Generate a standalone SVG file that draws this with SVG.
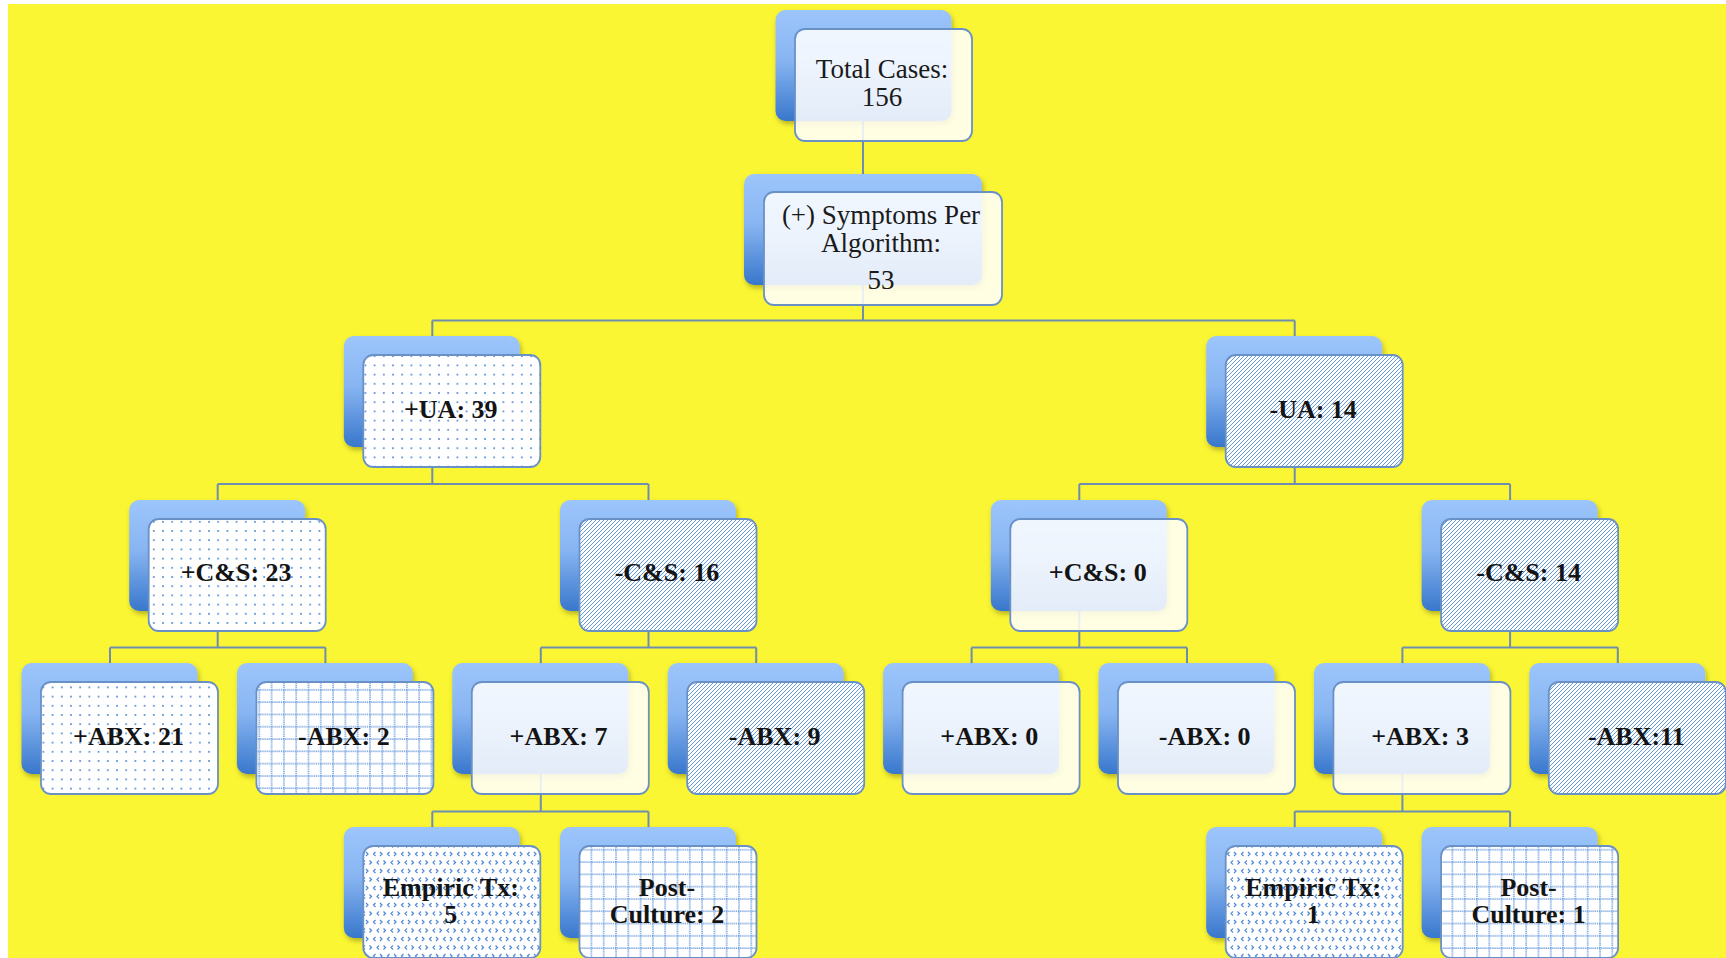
<svg xmlns="http://www.w3.org/2000/svg" width="1726" height="958" viewBox="0 0 1726 958">
  <defs>
    <style>
      .back { fill: url(#gBack); filter: url(#fShadow); }
      .front { stroke: #6a91c6; stroke-width: 1.8; }
      .plain { fill: #ffffff; fill-opacity: 0.86; }
      .dots { fill: url(#pDots); }
      .hatch { fill: url(#pHatch); }
      .grid { fill: url(#pGrid); }
      .divot { fill: url(#pDivot); }
      .lbl { font-family: "Liberation Serif", "Times New Roman", serif; font-size: 26px; font-weight: bold; fill: #141414; text-anchor: middle; }
      .lblr { font-family: "Liberation Serif", "Times New Roman", serif; font-size: 27px; fill: #1a1a1a; text-anchor: middle; }
      .conn { fill: none; stroke: #6f8db0; stroke-width: 2; }
    </style>
    <linearGradient id="gBack" x1="0" y1="0" x2="0" y2="1">
      <stop offset="0" stop-color="#9cc5fb"/>
      <stop offset="0.45" stop-color="#88b5f2"/>
      <stop offset="1" stop-color="#3877cc"/>
    </linearGradient>
    <filter id="fShadow" x="-10%" y="-10%" width="125%" height="130%">
      <feDropShadow dx="1.5" dy="3" stdDeviation="2.5" flood-color="#000000" flood-opacity="0.28"/>
    </filter>
    <!-- sparse dots on white -->
    <pattern id="pDots" x="2" y="2" width="9.2" height="9.2" patternUnits="userSpaceOnUse">
      <rect width="9.2" height="9.2" fill="#ffffff"/>
      <circle cx="4.6" cy="4.6" r="1" fill="#4a86d6"/>
    </pattern>
    <!-- upward diagonal hatching -->
    <pattern id="pHatch" width="4" height="4" patternUnits="userSpaceOnUse">
      <rect width="4" height="4" fill="#ffffff"/>
      <path d="M0,4 L4,0 M-1,1 L1,-1 M3,5 L5,3" stroke="#5590dc" stroke-width="0.9"/>
    </pattern>
    <!-- dotted grid -->
    <pattern id="pGrid" width="12.3" height="12.3" patternUnits="userSpaceOnUse">
      <rect width="12.3" height="12.3" fill="#ffffff"/>
      <path d="M0,1 H12.3 M1,0 V12.3" stroke="#3f7fd4" stroke-width="1.2" stroke-dasharray="1.2 0.85"/>
    </pattern>
    <!-- small chevrons -->
    <pattern id="pDivot" width="14" height="17" patternUnits="userSpaceOnUse">
      <rect width="14" height="17" fill="#ffffff"/>
      <path d="M2,2 L4,4 L2,6 M11.5,2 L9.5,4 L11.5,6 M5.5,10.5 L7.5,12.5 L5.5,14.5 M15,10.5 L13,12.5 L15,14.5 M1,10.5 L-1,12.5 L1,14.5" fill="none" stroke="#4a86d6" stroke-width="1.2"/>
    </pattern>
  </defs>

  <!-- page background -->
  <rect x="0" y="0" width="1726" height="958" fill="#ffffff"/>
  <rect x="8" y="4" width="1718" height="954" fill="#fbf633"/>

  <!-- connectors -->
  <g id="connectors" class="conn">
    <path d="M863,70 V230"/>
    <path d="M863,230 V320.5 M432.3,320.5 H1294.7 M432.3,320.5 V338 M1294.7,320.5 V338"/>
    <path d="M432.3,400 V484 M217.7,484 H648.5 M217.7,484 V502 M648.5,484 V502"/>
    <path d="M1294.7,400 V484 M1079.3,484 H1510.1 M1079.3,484 V502 M1510.1,484 V502"/>
    <path d="M217.7,560 V647.5 M110,647.5 H325.4 M110,647.5 V665 M325.4,647.5 V665"/>
    <path d="M648.5,560 V647.5 M540.8,647.5 H756.2 M540.8,647.5 V665 M756.2,647.5 V665"/>
    <path d="M1079.3,560 V647.5 M971.6,647.5 H1187 M971.6,647.5 V665 M1187,647.5 V665"/>
    <path d="M1510.1,560 V647.5 M1402.4,647.5 H1617.8 M1402.4,647.5 V665 M1617.8,647.5 V665"/>
    <path d="M540.8,725 V811.5 M432.3,811.5 H648.5 M432.3,811.5 V829 M648.5,811.5 V829"/>
    <path d="M1402.4,725 V811.5 M1294.7,811.5 H1510.1 M1294.7,811.5 V829 M1510.1,811.5 V829"/>
  </g>

  <!-- level 0 -->
  <g id="n-total">
    <rect class="back" x="775.5" y="10" width="176" height="111" rx="10"/>
    <rect class="front plain" x="795" y="29" width="177" height="112" rx="10"/>
    <text class="lblr" x="882" y="78">Total Cases:</text>
    <text class="lblr" x="882" y="106">156</text>
  </g>

  <!-- level 1 -->
  <g id="n-symptoms">
    <rect class="back" x="744" y="174" width="238" height="111" rx="10"/>
    <rect class="front plain" x="764" y="192" width="238" height="113" rx="10"/>
    <text class="lblr" x="881" y="224">(+) Symptoms Per</text>
    <text class="lblr" x="881" y="252">Algorithm:</text>
    <text class="lblr" x="881" y="289">53</text>
  </g>

  <!-- level 2 -->
  <g id="n-ua-pos">
    <rect class="back" x="343.8" y="336" width="176" height="111" rx="10"/>
    <rect class="front dots" x="363.3" y="355" width="177" height="112" rx="10"/>
    <text class="lbl" x="450.8" y="418">+UA: 39</text>
  </g>
  <g id="n-ua-neg">
    <rect class="back" x="1206.2" y="336" width="176" height="111" rx="10"/>
    <rect class="front hatch" x="1225.7" y="355" width="177" height="112" rx="10"/>
    <text class="lbl" x="1313.2" y="418">-UA: 14</text>
  </g>

  <!-- level 3 -->
  <g id="n-cs-pos-a">
    <rect class="back" x="129.2" y="500" width="176" height="111" rx="10"/>
    <rect class="front dots" x="148.7" y="519" width="177" height="112" rx="10"/>
    <text class="lbl" x="236.2" y="581">+C&amp;S: 23</text>
  </g>
  <g id="n-cs-neg-a">
    <rect class="back" x="560" y="500" width="176" height="111" rx="10"/>
    <rect class="front hatch" x="579.5" y="519" width="177" height="112" rx="10"/>
    <text class="lbl" x="667" y="581">-C&amp;S: 16</text>
  </g>
  <g id="n-cs-pos-b">
    <rect class="back" x="990.8" y="500" width="176" height="111" rx="10"/>
    <rect class="front plain" x="1010.3" y="519" width="177" height="112" rx="10"/>
    <text class="lbl" x="1097.8" y="581">+C&amp;S: 0</text>
  </g>
  <g id="n-cs-neg-b">
    <rect class="back" x="1421.6" y="500" width="176" height="111" rx="10"/>
    <rect class="front hatch" x="1441.1" y="519" width="177" height="112" rx="10"/>
    <text class="lbl" x="1528.6" y="581">-C&amp;S: 14</text>
  </g>

  <!-- level 4 -->
  <g id="n-abx-1">
    <rect class="back" x="21.5" y="663" width="176" height="111" rx="10"/>
    <rect class="front dots" x="41" y="682" width="177" height="112" rx="10"/>
    <text class="lbl" x="128.5" y="745">+ABX: 21</text>
  </g>
  <g id="n-abx-2">
    <rect class="back" x="236.9" y="663" width="176" height="111" rx="10"/>
    <rect class="front grid" x="256.4" y="682" width="177" height="112" rx="10"/>
    <text class="lbl" x="343.9" y="745">-ABX: 2</text>
  </g>
  <g id="n-abx-3">
    <rect class="back" x="452.3" y="663" width="176" height="111" rx="10"/>
    <rect class="front plain" x="471.8" y="682" width="177" height="112" rx="10"/>
    <text class="lbl" x="558.5" y="745">+ABX: 7</text>
  </g>
  <g id="n-abx-4">
    <rect class="back" x="667.7" y="663" width="176" height="111" rx="10"/>
    <rect class="front hatch" x="687.2" y="682" width="177" height="112" rx="10"/>
    <text class="lbl" x="774.7" y="745">-ABX: 9</text>
  </g>
  <g id="n-abx-5">
    <rect class="back" x="883.1" y="663" width="176" height="111" rx="10"/>
    <rect class="front plain" x="902.6" y="682" width="177" height="112" rx="10"/>
    <text class="lbl" x="989.3" y="745">+ABX: 0</text>
  </g>
  <g id="n-abx-6">
    <rect class="back" x="1098.5" y="663" width="176" height="111" rx="10"/>
    <rect class="front plain" x="1118" y="682" width="177" height="112" rx="10"/>
    <text class="lbl" x="1204.7" y="745">-ABX: 0</text>
  </g>
  <g id="n-abx-7">
    <rect class="back" x="1313.9" y="663" width="176" height="111" rx="10"/>
    <rect class="front plain" x="1333.4" y="682" width="177" height="112" rx="10"/>
    <text class="lbl" x="1420.1" y="745">+ABX: 3</text>
  </g>
  <g id="n-abx-8">
    <rect class="back" x="1529.3" y="663" width="176" height="111" rx="10"/>
    <rect class="front hatch" x="1548.8" y="682" width="177" height="112" rx="10"/>
    <text class="lbl" x="1636.3" y="745">-ABX:11</text>
  </g>

  <!-- level 5 -->
  <g id="n-empiric-a">
    <rect class="back" x="343.8" y="827" width="176" height="111" rx="10"/>
    <rect class="front divot" x="363.3" y="846" width="177" height="112" rx="10"/>
    <text class="lbl" x="450.8" y="896">Empiric Tx:</text>
    <text class="lbl" x="450.8" y="923">5</text>
  </g>
  <g id="n-post-a">
    <rect class="back" x="560" y="827" width="176" height="111" rx="10"/>
    <rect class="front grid" x="579.5" y="846" width="177" height="112" rx="10"/>
    <text class="lbl" x="667" y="896">Post-</text>
    <text class="lbl" x="667" y="923">Culture: 2</text>
  </g>
  <g id="n-empiric-b">
    <rect class="back" x="1206.2" y="827" width="176" height="111" rx="10"/>
    <rect class="front divot" x="1225.7" y="846" width="177" height="112" rx="10"/>
    <text class="lbl" x="1313.2" y="896">Empiric Tx:</text>
    <text class="lbl" x="1313.2" y="923">1</text>
  </g>
  <g id="n-post-b">
    <rect class="back" x="1421.6" y="827" width="176" height="111" rx="10"/>
    <rect class="front grid" x="1441.1" y="846" width="177" height="112" rx="10"/>
    <text class="lbl" x="1528.6" y="896">Post-</text>
    <text class="lbl" x="1528.6" y="923">Culture: 1</text>
  </g>
</svg>
